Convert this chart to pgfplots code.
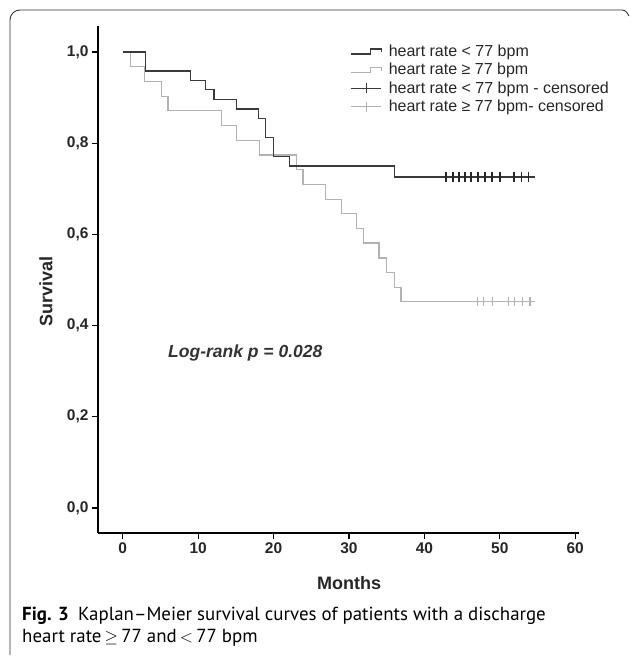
\documentclass[border=0pt]{standalone}
\usepackage{fontspec}
\setmainfont{Liberation Sans}
\newfontfamily\capfont{PT Sans}
\usepackage{pgfplots}
\pgfplotsset{compat=1.18}
\definecolor{kmdark}{HTML}{3A3A3A}
\definecolor{kmlight}{HTML}{B2B2B2}
\definecolor{framegray}{HTML}{333333}

\begin{document}
\begin{tikzpicture}
\path[use as bounding box] (0pt,0pt) rectangle (630pt,657pt);
% figure frame (top rule and left rule)
\draw[framegray, line width=0.9pt] (10pt,2pt) -- (10pt,637pt) arc[start angle=180, end angle=90, radius=10pt]
  -- (622pt,647pt) to[out=0,in=120] (629pt,641pt);

\begin{axis}[
  at={(98pt,124pt)}, anchor=south west,
  scale only axis,
  width=481pt, height=507pt,
  xmin=-3.28, xmax=60.5,
  ymin=-0.055, ymax=1.057,
  axis lines=left,
  axis line style={-, line width=1.8pt, black},
  tick align=outside,
  major tick length=6pt,
  tick style={black, line width=1.2pt},
  xtick={0,10,20,30,40,50,60},
  xticklabels={0,10,20,30,40,50,60},
  ytick={0,0.2,0.4,0.6,0.8,1},
  yticklabels={{0,0},{0,2},{0,4},{0,6},{0,8},{1,0}},
  ticklabel style={font=\bfseries\fontsize{15.5}{15.5}\selectfont, text=black!85},
  xlabel={Months},
  ylabel={Survival},
  xlabel style={at={(rel axis cs:0.522,-0.0986)}, anchor=center, font=\bfseries\fontsize{18}{18}\selectfont, text=black!85},
  ylabel style={at={(rel axis cs:-0.108,0.477)}, anchor=center, font=\bfseries\fontsize{18}{18}\selectfont, text=black!85},
  legend style={at={(rel axis cs:0.525,0.967)}, anchor=north west, draw=none, fill=none,
    font=\fontsize{16}{18}\selectfont, text=black!85, inner sep=0pt, row sep=2.5pt,
    nodes={inner sep=1.5pt}},
  legend cell align=left,
  clip=false,
]

\addlegendimage{legend image code/.code={\path[draw=none,fill=none] (0pt,0pt) -- (36pt,0pt); \draw[kmdark, line width=1.1pt] (0pt,-3pt) -- (19pt,-3pt) -- (19pt,2pt) -- (30pt,2pt) -- (30pt,-1pt);}}
\addlegendentry{heart rate < 77 bpm}
\addlegendimage{legend image code/.code={\path[draw=none,fill=none] (0pt,0pt) -- (36pt,0pt); \draw[kmlight, line width=1.1pt] (0pt,-3pt) -- (19pt,-3pt) -- (19pt,2pt) -- (30pt,2pt) -- (30pt,-1pt);}}
\addlegendentry{heart rate ≥ 77 bpm}
\addlegendimage{legend image code/.code={\path[draw=none,fill=none] (0pt,0pt) -- (36pt,0pt); \draw[kmdark, line width=1.1pt] (0pt,0pt) -- (30pt,0pt); \draw[kmdark, line width=1.1pt] (15pt,-5pt) -- (15pt,5pt);}}
\addlegendentry{heart rate < 77 bpm - censored}
\addlegendimage{legend image code/.code={\path[draw=none,fill=none] (0pt,0pt) -- (36pt,0pt); \draw[kmlight, line width=1.1pt] (0pt,0pt) -- (30pt,0pt); \draw[kmlight, line width=1.1pt] (15pt,-5pt) -- (15pt,5pt);}}
\addlegendentry{heart rate ≥ 77 bpm- censored}

% heart rate >= 77 bpm
\addplot[const plot, kmlight, line width=1.3pt, forget plot] coordinates {
  (0,1) (1,0.968) (2.9,0.935) (5.1,0.903) (6,0.871) (13.1,0.839) (15.1,0.806)
  (18.1,0.774) (23,0.742) (23.9,0.710) (26.9,0.677) (29,0.645) (31,0.613)
  (31.9,0.581) (34,0.548) (35,0.516) (36,0.484) (36.9,0.452) (54.6,0.452)
};
% heart rate < 77 bpm
\addplot[const plot, kmdark, line width=1.3pt, forget plot] coordinates {
  (0,1) (3,0.958) (9,0.938) (11,0.917) (12.1,0.896) (15.1,0.875) (18,0.854)
  (18.9,0.813) (20,0.771) (22.1,0.750) (36,0.726) (54.6,0.726)
};
% censored
\addplot[only marks, mark=|, mark size=4.5pt, kmlight, mark options={line width=1.2pt}, forget plot] coordinates {
  (47,0.452) (47.8,0.452) (49,0.452) (51.1,0.452) (52,0.452) (53,0.452) (54,0.452)
};
\addplot[only marks, mark=|, mark size=5pt, black!85, mark options={line width=1.6pt}, forget plot] coordinates {
  (42.9,0.726) (43.8,0.726) (44.6,0.726) (45.4,0.726) (46.2,0.726) (47.1,0.726)
  (48,0.726) (49,0.726) (50,0.726) (51.9,0.726) (52.9,0.726) (53.8,0.726)
};

\node[anchor=west, inner sep=0pt, font=\bfseries\itshape\fontsize{17.5}{17.5}\selectfont, text=black!80]
  at (axis cs:6,0.34) {Log-rank p = 0.028};
\end{axis}

% caption
\node[anchor=base west, inner sep=0pt, font=\capfont\fontsize{18.9}{22}\selectfont] at (22pt,37pt)
  {\textbf{Fig. 3}\enspace Kaplan–Meier survival curves of patients with a discharge};
\node[anchor=base west, inner sep=0pt, font=\capfont\fontsize{18.9}{22}\selectfont] at (22pt,14pt)
  {heart rate\,$\geq$\,77 and\,$<$\,77 bpm};
\end{tikzpicture}
\end{document}
